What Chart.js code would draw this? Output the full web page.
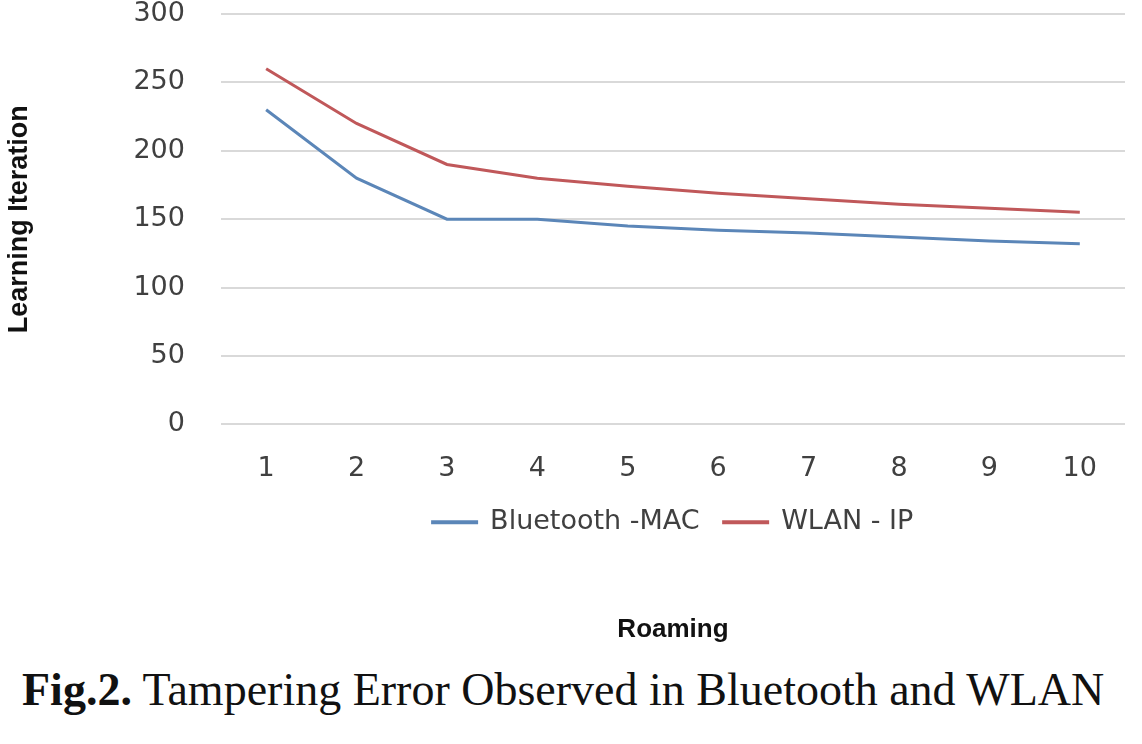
<!DOCTYPE html>
<html>
<head>
<meta charset="utf-8">
<script src="https://cdn.jsdelivr.net/npm/chart.js@4.4.1/dist/chart.umd.min.js"></script>
<style>
  html, body { margin: 0; padding: 0; background: #fff; overflow: hidden; }
  #wrap { position: relative; width: 1142px; height: 744px; }
  #chart { display: block; }
  #caption {
    position: absolute; left: 22px; top: 663px;
    font-family: "Liberation Serif", "Times New Roman", serif;
    font-size: 46px; color: #111; white-space: nowrap;
  }
  #caption b { font-weight: bold; }
</style>
</head>
<body>
<div id="wrap">
  <canvas id="chart" width="1142" height="655"></canvas>
  <div id="caption"><b>Fig.2.</b> Tampering Error Observed in Bluetooth and WLAN</div>
</div>
<script>
// datos
const roaming = ['1', '2', '3', '4', '5', '6', '7', '8', '9', '10'];
const bluetoothMac = [230, 180, 150, 150, 145, 142, 140, 137, 134, 132];
const wlanIp = [260, 220, 190, 180, 174, 169, 165, 161, 158, 155];
const yTicks = [0, 50, 100, 150, 200, 250, 300];

const azul = '#5b86b8';
const rojo = '#c0585a';
const gris = '#404040';

const ctx = document.getElementById('chart').getContext('2d');
new Chart(ctx, {
    type: 'line',
    data: {
        labels: roaming,
        datasets: [
            {
                label: 'Bluetooth -MAC',
                data: bluetoothMac,
                borderColor: azul,
                backgroundColor: azul,
                borderWidth: 3,
                pointRadius: 0,
                tension: 0
            },
            {
                label: 'WLAN - IP',
                data: wlanIp,
                borderColor: rojo,
                backgroundColor: rojo,
                borderWidth: 3,
                pointRadius: 0,
                tension: 0
            }
        ]
    },
    options: {
        responsive: false,
        animation: false,
        layout: { padding: { top: 14, right: 17, left: 0, bottom: 0 } },
        scales: {
            x: {
                offset: true,
                grid: { display: false, drawTicks: false },
                border: { display: false },
                ticks: {
                    color: gris,
                    padding: 28,
                    font: { family: 'DejaVu Sans', size: 27 }
                },
                // el padding de ticks se cuenta dos veces; quitamos el de abajo
                afterFit: (scale) => { scale.height -= 28; }
            },
            y: {
                min: 0,
                max: 300,
                afterBuildTicks: (scale) => {
                    scale.ticks = yTicks.map(v => ({ value: v }));
                },
                afterFit: (scale) => {
                    scale.paddingTop = 0;
                    scale.paddingBottom = 0;
                },
                grid: { color: '#d9d9d9', lineWidth: 2, drawTicks: false },
                border: { display: false },
                ticks: {
                    color: gris,
                    padding: 36,
                    font: { family: 'DejaVu Sans', size: 27 }
                },
                title: {
                    display: true,
                    text: 'Learning Iteration',
                    color: '#111',
                    padding: { top: 3, bottom: 62 },
                    font: { family: 'Liberation Sans', size: 27, weight: 'bold' }
                }
            }
        },
        plugins: {
            legend: {
                position: 'bottom',
                fullSize: false,
                weight: 1000,
                labels: {
                    color: gris,
                    boxWidth: 44,
                    boxHeight: 1,
                    padding: 24,
                    font: { family: 'DejaVu Sans', size: 27 }
                }
            },
            title: {
                display: true,
                position: 'bottom',
                fullSize: false,
                weight: 2000,
                text: 'Roaming',
                color: '#111',
                padding: { top: 68, bottom: 10 },
                font: { family: 'Liberation Sans', size: 26, weight: 'bold' }
            },
            tooltip: { enabled: false }
        }
    }
});
</script>
</body>
</html>
